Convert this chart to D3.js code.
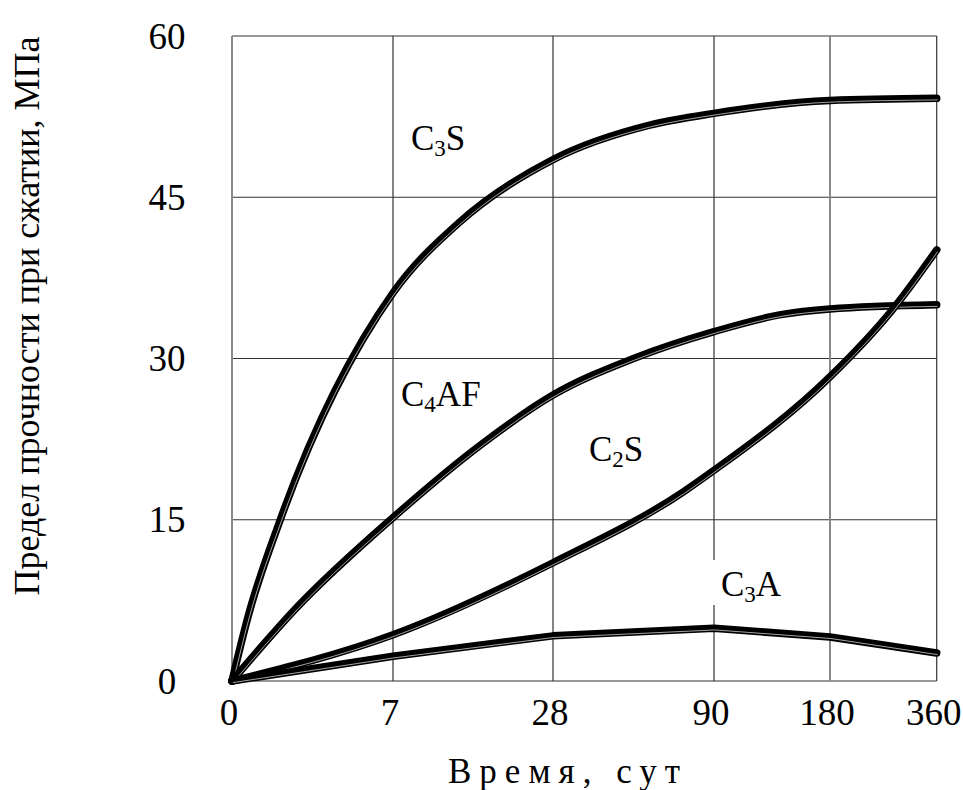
<!DOCTYPE html>
<html>
<head>
<meta charset="utf-8">
<script src="https://cdn.jsdelivr.net/npm/d3@7"></script>
<style>
  body { margin: 0; background: #fff; }
  svg text { font-family: 'Liberation Serif', 'Times New Roman', serif; fill: #000; }
</style>
</head>
<body>
<svg id="chart" width="963" height="790"></svg>
<script>
// categories on the x axis (days) and y ticks (MPa)
const days = ['0', '7', '28', '90', '180', '360']
const yTicks = [0, 15, 30, 45, 60]

// [position along the day axis (category index), strength MPa]
const c3s = [[0, 0], [0.1, 6.0], [0.3, 15.0], [1, 36.1], [1.41, 42.6],
  [2, 48.5], [2.6, 51.7], [3, 52.8], [4, 54.0], [5, 54.2]]
const c4af = [[0, 0], [0.4, 6.8], [1, 15.2], [1.56, 22.1], [2, 26.6], [2.5, 30.0],
  [3, 32.5], [3.59, 34.1], [4, 34.6], [5, 35.0]]
const c2s = [[0, 0], [1, 4.3], [2, 11.0], [2.81, 17.6], [3, 19.6], [4, 28.3],
  [4.59, 34.6], [5, 40.1]]
const c3a = [[0, 0], [1, 2.3], [2, 4.2], [3, 4.9], [4, 4.1], [5, 2.6]]

const series = [
  { name: 'C3S', values: c3s, curve: d3.curveMonotoneX },
  { name: 'C4AF', values: c4af, curve: d3.curveMonotoneX },
  { name: 'C2S', values: c2s, curve: d3.curveMonotoneX },
  { name: 'C3A', values: c3a, curve: d3.curveLinear }
]

// labels: main letters + subscript
const labels = [
  { parts: ['C', '3', 'S'], x: 411, y: 150 },
  { parts: ['C', '4', 'AF'], x: 401, y: 406 },
  { parts: ['C', '2', 'S'], x: 589, y: 461 },
  { parts: ['C', '3', 'A'], x: 721, y: 596, bg: true }
]

const svg = d3.select('#chart')

// day axis is categorical, columns are not equal in width
const x = d3.scaleLinear()
  .domain(d3.range(days.length))
  .range([232, 393, 553, 714, 830, 936.7])
const y = d3.scaleLinear().domain([0, 60]).range([681, 36])

const grid = svg.append('g').attr('class', 'grid')

grid.selectAll('line.h')
  .data(yTicks)
  .enter()
  .append('line')
  .attr('class', 'h')
  .attr('x1', x(0))
  .attr('x2', x(days.length - 1))
  .attr('y1', (d) => y(d))
  .attr('y2', (d) => y(d))
  .attr('stroke', '#333')
  .attr('stroke-width', 1.2)

grid.selectAll('line.v')
  .data(days)
  .enter()
  .append('line')
  .attr('class', 'v')
  .attr('x1', (d, i) => x(i))
  .attr('x2', (d, i) => x(i))
  .attr('y1', y(0))
  .attr('y2', y(60))
  .attr('stroke', (d, i) => (i === 0 || i === 4 ? '#888' : '#333'))
  .attr('stroke-width', (d, i) => (i === 0 || i === 4 ? 2 : 1.2))

// y tick labels
svg.append('g')
  .selectAll('text')
  .data(yTicks)
  .enter()
  .append('text')
  .attr('x', 167)
  .attr('y', (d) => y(d))
  .attr('dy', '0.34em')
  .attr('text-anchor', 'middle')
  .style('font-size', '37px')
  .text((d) => d)

// x tick labels
svg.append('g')
  .selectAll('text')
  .data(days)
  .enter()
  .append('text')
  .attr('x', (d, i) => x(i) - 3)
  .attr('y', 725)
  .attr('text-anchor', 'middle')
  .style('font-size', '37px')
  .text((d) => d)

// axis titles
svg.append('text')
  .attr('x', 568)
  .attr('y', 783)
  .attr('text-anchor', 'middle')
  .style('font-size', '35px')
  .style('letter-spacing', '8px')
  .text('Время, сут')

svg.append('text')
  .attr('transform', 'translate(39,316) rotate(-90)')
  .attr('text-anchor', 'middle')
  .style('font-size', '36px')
  .text('Предел прочности при сжатии, МПа')

// curve labels
const lab = svg.append('g').attr('class', 'labels')
labels.forEach(function (l) {
  if (l.bg) {
    lab.append('rect')
      .attr('x', l.x - 8)
      .attr('y', l.y - 36)
      .attr('width', 78)
      .attr('height', 45)
      .attr('fill', '#fff')
  }
  const t = lab.append('text')
    .attr('x', l.x)
    .attr('y', l.y)
    .style('font-size', '35px')
  t.append('tspan').text(l.parts[0])
  t.append('tspan').attr('dy', 6).style('font-size', '23px').text(l.parts[1])
  t.append('tspan').attr('dy', -6).text(l.parts[2])
})

// curves: thick black stroke with a thin white line inside
const line = (s) => d3.line()
  .x((d) => x(d[0]))
  .y((d) => y(d[1]))
  .curve(s.curve)(s.values)

const curves = svg.append('g').attr('class', 'curves')
series.forEach(function (s) {
  curves.append('path')
    .attr('d', line(s))
    .attr('fill', 'none')
    .attr('stroke', '#000')
    .attr('stroke-width', 7.5)
    .attr('stroke-linecap', 'round')
    .attr('stroke-linejoin', 'round')
  curves.append('path')
    .attr('d', line(s))
    .attr('transform', 'translate(1,1.6)')
    .attr('fill', 'none')
    .attr('stroke', '#fff')
    .attr('stroke-width', 0.8)
    .attr('opacity', 0.8)
})
</script>
</body>
</html>
